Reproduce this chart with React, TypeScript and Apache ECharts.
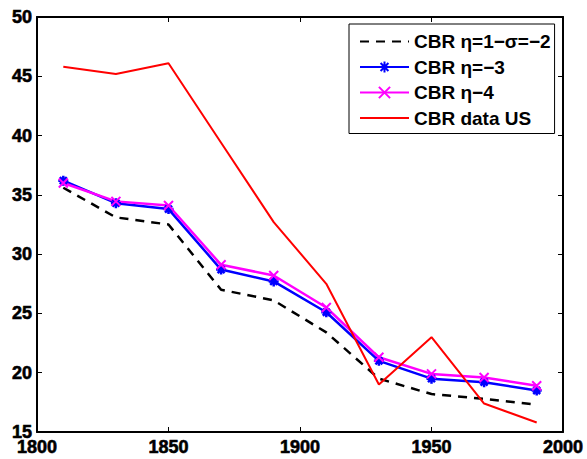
import React, { useEffect, useRef } from "react";
import * as echarts from "echarts";

const years = [1810, 1830, 1850, 1870, 1890, 1910, 1930, 1950, 1970, 1990];
const cbrSigma = [35.6, 33.1, 32.5, 27.0, 26.1, 23.4, 19.5, 18.2, 17.8, 17.3];
const cbrEta3 = [36.2, 34.3, 33.8, 28.7, 27.7, 25.1, 21.0, 19.5, 19.2, 18.5];
const cbrEta4 = [36.0, 34.45, 34.1, 29.1, 28.2, 25.5, 21.3, 19.9, 19.6, 18.9];
const cbrUS = [45.8, 45.2, 46.1, 39.4, 32.7, 27.5, 19.0, 23.0, 17.4, 15.8];
const seriesNames = ["CBR η=1−σ=−2", "CBR η=−3", "CBR η−4", "CBR data US"];

const pair = (vals: number[]) => years.map((y, i) => [y, vals[i]]);

const asterisk = "path://M5,0L5,10M0,5L10,5M1.5,1.5L8.5,8.5M1.5,8.5L8.5,1.5";
const cross = "path://M0,0L10,10M0,10L10,0";

export default function App() {
  const ref = useRef<HTMLDivElement>(null);
  useEffect(() => {
    document.body.style.margin = "0";
    const chart = echarts.init(ref.current!, null, { renderer: "svg" });
    const axisLine = { show: true, lineStyle: { color: "#000", width: 2 } };
    const tick = { show: true, inside: true, length: 5, lineStyle: { color: "#000", width: 1 } };
    const lbl = {
      fontSize: 18,
      fontWeight: "bold",
      color: "#000",
      fontFamily: "Liberation Sans",
      textBorderColor: "#000",
      textBorderWidth: 0.6,
      formatter: (v: number) => String(v),
    };
    const hiddenSymbol = { color: "rgba(0,0,0,0)", borderWidth: 0, opacity: 0 };
    chart.setOption({
      animation: false,
      textStyle: { fontFamily: "Liberation Sans" },
      grid: { left: 37, top: 17, right: 24, bottom: 27, containLabel: false },
      xAxis: [
        {
          type: "value", min: 1800, max: 2000, interval: 50, position: "bottom",
          axisLine, axisTick: tick, splitLine: { show: false },
          axisLabel: { ...lbl, margin: 6 },
        },
        {
          type: "value", min: 1800, max: 2000, interval: 50, position: "top",
          axisLine, axisTick: tick, splitLine: { show: false }, axisLabel: { show: false },
        },
      ],
      yAxis: [
        {
          type: "value", min: 15, max: 50, interval: 5, position: "left",
          axisLine, axisTick: tick, splitLine: { show: false },
          axisLabel: { ...lbl, margin: 5 },
        },
        {
          type: "value", min: 15, max: 50, interval: 5, position: "right",
          axisLine, axisTick: tick, splitLine: { show: false }, axisLabel: { show: false },
        },
      ],
      legend: {
        orient: "vertical",
        left: 349,
        top: 24,
        padding: [8, 4, 6, 10],
        backgroundColor: "#fff",
        borderColor: "#000",
        borderWidth: 1,
        itemWidth: 49,
        itemHeight: 14,
        itemGap: 6.5,
        data: [
          { name: seriesNames[0], itemStyle: hiddenSymbol },
          { name: seriesNames[1] },
          { name: seriesNames[2] },
          { name: seriesNames[3], itemStyle: hiddenSymbol },
        ],
        textStyle: { fontSize: 19, fontWeight: "bold", color: "#000", lineHeight: 19, fontFamily: "Liberation Sans" },
      },
      series: [
        {
          name: seriesNames[0], type: "line", data: pair(cbrSigma), symbol: "none",
          lineStyle: { color: "#000", width: 2.5, type: [9, 7] }, itemStyle: { color: "#000" },
        },
        {
          name: seriesNames[1], type: "line", data: pair(cbrEta3), symbol: asterisk, symbolSize: 10,
          lineStyle: { color: "#0000ff", width: 2.5 },
          itemStyle: { color: "#0000ff", borderColor: "#0000ff", borderWidth: 2.5 },
        },
        {
          name: seriesNames[2], type: "line", data: pair(cbrEta4), symbol: cross, symbolSize: 9,
          lineStyle: { color: "#ff00ff", width: 2.5 },
          itemStyle: { color: "#ff00ff", borderColor: "#ff00ff", borderWidth: 2 },
        },
        {
          name: seriesNames[3], type: "line", data: pair(cbrUS), symbol: "none",
          lineStyle: { color: "#ff0000", width: 2 }, itemStyle: { color: "#ff0000" },
        },
      ],
    });
    return () => chart.dispose();
  }, []);
  return <div ref={ref} style={{ width: 587, height: 459 }} />;
}
